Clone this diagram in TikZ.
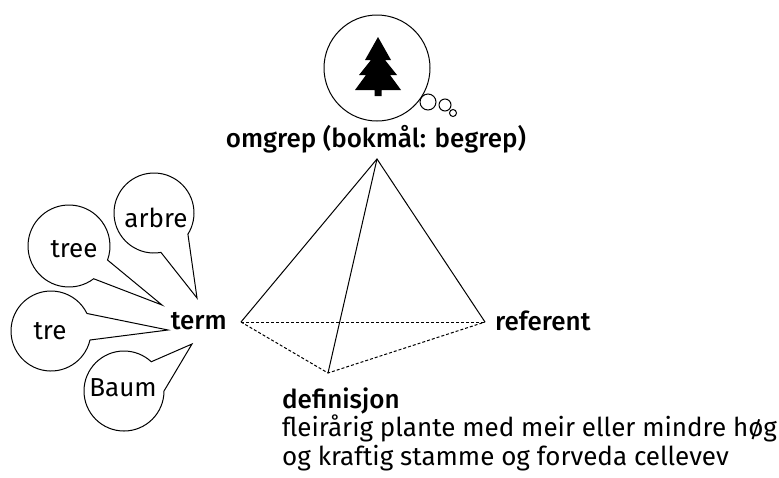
\documentclass[tikz,border=0pt]{standalone}
\usepackage{fontspec}
\setmainfont{Fira Sans}[BoldFont={Fira Sans Medium}]
\begin{document}
\begin{tikzpicture}[x=0.5pt,y=0.5pt,line width=0.5pt,
        lbl/.style={font=\fontsize{13}{15}\selectfont\bfseries},
        word/.style={font=\fontsize{13}{14.5}\selectfont},
        bubble/.style={draw,fill=white},
        hidden/.style={dash pattern=on 1.5pt off 1pt}]
    \useasboundingbox (0,0) rectangle (779,-477);
    %% thought
    \draw (377,-68) circle[radius=53];
    \draw (428,-102) circle[radius=8];
    \draw (445,-105) circle[radius=6];
    \draw (453,-113) circle[radius=3.5];
    \fill (378,-37) -- (391,-60) -- (385,-60) -- (397,-75) -- (390,-75) -- (401,-90)
        -- (381.5,-90) -- (381.5,-96) -- (374.5,-96) -- (374.5,-90) -- (355,-90)
        -- (366,-75) -- (359,-75) -- (371,-60) -- (365,-60) -- cycle;
    \node[lbl,anchor=base] (omgrep) at (376,-147) {omgrep (bokmål: begrep)};
    %% pyramid
    \coordinate (apex) at (377,-159);
    \coordinate (t) at (241,-322);
    \coordinate (r) at (485,-322);
    \coordinate (d) at (328,-373);
    \draw (t) -- (apex) -- (r);
    \draw (apex) -- (d);
    \draw[hidden] (t) -- (r);
    \draw[hidden] (t) -- (d) -- (r);
    \node[lbl,anchor=east] (term) at (234,-321) {term};
    \node[lbl,anchor=west] (referent) at (488,-321) {referent};
    \node[lbl,anchor=base west] (definisjon) at (275,-408) {definisjon};
    \node[word,anchor=base west,align=left] (deftekst) at (275,-465)
        {fleirårig plante med meir eller mindre høg\\og kraftig stamme og forveda cellevev};
    %% speech bubbles
    \draw[bubble] (154,-213) ++(-80:40) arc[start angle=-80,end angle=-392,radius=40] -- (197,-298) -- cycle;
    \draw[bubble] (69,-246) ++(-53:41) arc[start angle=-53,end angle=-380,radius=41] -- (162,-305) -- cycle;
    \draw[bubble] (51,-331) ++(-13:40) arc[start angle=-13,end angle=-334,radius=40] -- (168,-330) -- cycle;
    \draw[bubble] (124,-391) ++(0:40) arc[start angle=0,end angle=-313,radius=40] -- (192,-344) -- cycle;
    \node[word,anchor=base] (arbre) at (156,-227) {arbre};
    \node[word,anchor=base] (tree) at (74,-257) {tree};
    \node[word,anchor=base] (tre) at (50,-339) {tre};
    \node[word,anchor=base] (baum) at (123,-396) {Baum};
\end{tikzpicture}
\end{document}
